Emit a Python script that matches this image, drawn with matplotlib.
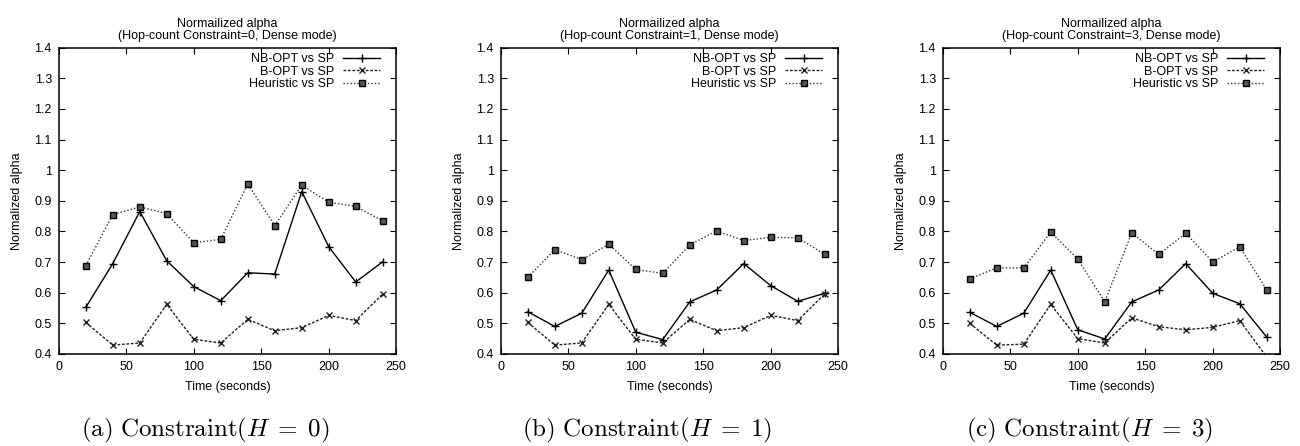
import matplotlib
matplotlib.use("Agg")
import matplotlib.pyplot as plt

plt.rcParams['font.family'] = ['Liberation Sans', 'DejaVu Sans']
plt.rcParams['mathtext.fontset'] = 'cm'

time_s = [20, 40, 60, 80, 100, 120, 140, 160, 180, 200, 220, 240]

nb_h0 = [0.552, 0.695, 0.865, 0.704, 0.620, 0.574, 0.665, 0.661, 0.930, 0.750, 0.635, 0.701]
b_h0 = [0.503, 0.429, 0.436, 0.562, 0.448, 0.436, 0.513, 0.476, 0.486, 0.526, 0.509, 0.596]
he_h0 = [0.688, 0.855, 0.880, 0.858, 0.763, 0.774, 0.955, 0.819, 0.951, 0.895, 0.882, 0.834]

nb_h1 = [0.538, 0.490, 0.533, 0.674, 0.471, 0.447, 0.570, 0.609, 0.695, 0.623, 0.572, 0.598]
b_h1 = [0.503, 0.429, 0.436, 0.562, 0.448, 0.436, 0.513, 0.476, 0.486, 0.526, 0.509, 0.596]
he_h1 = [0.650, 0.741, 0.708, 0.758, 0.676, 0.663, 0.756, 0.802, 0.770, 0.781, 0.779, 0.725]

nb_h3 = [0.536, 0.490, 0.533, 0.674, 0.479, 0.449, 0.570, 0.609, 0.695, 0.598, 0.564, 0.455]
b_h3 = [0.500, 0.429, 0.432, 0.562, 0.450, 0.436, 0.518, 0.489, 0.479, 0.487, 0.509, 0.390]
he_h3 = [0.645, 0.681, 0.681, 0.798, 0.710, 0.570, 0.795, 0.725, 0.794, 0.700, 0.750, 0.609]

constraints = [0, 1, 3]
panel_letters = ['a', 'b', 'c']
series_labels = ['NB-OPT vs SP', 'B-OPT vs SP', 'Heuristic vs SP']
panels = [(nb_h0, b_h0, he_h0), (nb_h1, b_h1, he_h1), (nb_h3, b_h3, he_h3)]

x_ticks = [0, 50, 100, 150, 200, 250]
y_ticks = [0.4, 0.5, 0.6, 0.7, 0.8, 0.9, 1.0, 1.1, 1.2, 1.3, 1.4]
y_tick_labels = ['0.4', '0.5', '0.6', '0.7', '0.8', '0.9', '1', '1.1', '1.2', '1.3', '1.4']

fig = plt.figure(figsize=(13, 4.46), dpi=100)
lefts = [0.0452, 0.3852, 0.7252]
AXW = 0.2596
FS = 9

for i, (left, (nb, b, he)) in enumerate(zip(lefts, panels)):
    ax = fig.add_axes([left, 0.2063, AXW, 0.687])
    ax.plot(time_s, nb, color='black', lw=1.0, ls='-', marker='+', ms=6, mew=1.0,
            label=series_labels[0])
    ax.plot(time_s, b, color='#222222', lw=1.0, ls=(0, (2.0, 1.2)), marker='x', ms=5, mew=1.0,
            label=series_labels[1])
    ax.plot(time_s, he, color='#333333', lw=1.0, ls=(0, (1.0, 1.5)), marker='s', ms=4.5, mew=1.0,
            markerfacecolor='#555555', markeredgecolor='black', label=series_labels[2])
    ax.set_xlim(0, 250)
    ax.set_ylim(0.4, 1.4)
    ax.set_xticks(x_ticks)
    ax.set_yticks(y_ticks)
    ax.set_yticklabels(y_tick_labels)
    ax.tick_params(direction='in', length=4, width=0.8, top=True, right=True,
                   labelsize=FS, pad=5)
    for sp in ax.spines.values():
        sp.set_linewidth(1.1)
    ax.set_xlabel('Time (seconds)', fontsize=FS, labelpad=6)
    ax.set_ylabel('Normalized alpha', fontsize=FS, labelpad=8)
    ax.set_title('Normailized alpha\n(Hop-count Constraint=%d, Dense mode)' % constraints[i],
                 fontsize=FS, linespacing=1.0, pad=6)
    ax.legend(loc='upper right', bbox_to_anchor=(0.968, 0.999), frameon=False,
              markerfirst=False, fontsize=FS, handlelength=3.0, handletextpad=0.7,
              labelspacing=0.05, borderaxespad=0.2, borderpad=0.2)
    cx = left + AXW / 2 - 22 / 1300
    fig.text(cx, 0.035, r'$\mathrm{(%s)\ Constraint}(H\;=\;%d)$' % (panel_letters[i], constraints[i]),
             ha='center', va='center', fontsize=18)

fig.savefig('out.png', dpi=100)
